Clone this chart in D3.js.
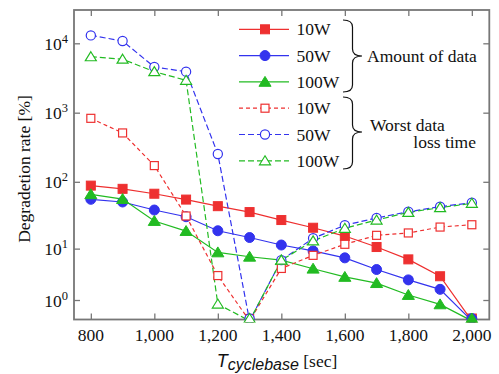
<!DOCTYPE html>
<html lang="en">
<head>
<meta charset="UTF-8">
<script src="https://d3js.org/d3.v7.min.js"></script>
<style>
  body { margin: 0; background: #fff; }
  text { font-family: "Liberation Serif", "Times New Roman", serif; fill: #111; }
</style>
</head>
<body>
<svg width="499" height="374"></svg>
<script>
// data
var cycles = [800, 900, 1000, 1100, 1200, 1300, 1400, 1500, 1600, 1700, 1800, 1900, 2000];
var amount10 = [88, 79, 67, 55, 44, 36, 27.4, 21, 15.7, 10.6, 6.7, 3.4, 0];
var amount50 = [55.5, 50.7, 38.6, 30.7, 18.9, 14.9, 11.4, 9.2, 7.1, 4.5, 2.9, 1.85, 0];
var amount100 = [65.7, 56, 26.5, 18.7, 8.7, 7.4, 6.5, 4.65, 3.3, 2.5, 1.36, 0.73, 0];
var worst10 = [829, 510, 172, 31.5, 3.5, 0, 4.7, 7.8, 11.7, 16.1, 17.5, 21.5, 23.3];
var worst50 = [13000, 10800, 4550, 3900, 253, 0, 6.5, 14.5, 22.9, 29.4, 36.4, 43.2, 49.5];
var worst100 = [6400, 5900, 3900, 2930, 0.75, 0, 6.5, 13.2, 20.6, 27.4, 35.7, 41.8, 48.5];
var xTicks = [800, 1000, 1200, 1400, 1600, 1800, 2000];
var yTicks = [1, 10, 100, 1000, 10000];
var legendLabels = ["10W", "50W", "100W", "10W", "50W", "100W"];

var red = "#ee3030", blue = "#3333ee", green = "#22bb22";

var series = [
  {v: amount10, c: red, m: "square", fill: true, dash: null},
  {v: amount50, c: blue, m: "circle", fill: true, dash: null},
  {v: amount100, c: green, m: "triangle", fill: true, dash: null},
  {v: worst10, c: red, m: "square", fill: false, dash: "4,3"},
  {v: worst50, c: blue, m: "circle", fill: false, dash: "6,3"},
  {v: worst100, c: green, m: "triangle", fill: false, dash: "6,3"}
];

var svg = d3.select("svg");
var pL = 74, pR = 489.3, pT = 10, pB = 319.5;

var x = d3.scaleLinear().domain([747, 2055]).range([pL, pR]);
// the vertical axis is log10(1 + value), so zero sits on the bottom edge
var yT = d3.scaleLinear().domain([0, 4.48]).range([320.9, pT]);
function y(v) { return yT(Math.log10(1 + v)); }

svg.append("clipPath").attr("id", "clip")
  .append("rect").attr("x", pL).attr("y", pT)
  .attr("width", pR - pL).attr("height", pB - pT + 3);

// axes with inward ticks on all four sides
var frameColor = "#777";
function styleAxis(g) {
  g.select(".domain").remove();
  g.selectAll("line").attr("stroke", frameColor).attr("stroke-width", 1.3);
  g.selectAll("text").remove();
}
var yTickVals = yTicks.map(function(d) { return Math.log10(1 + d); });
svg.append("g").attr("transform", "translate(0," + pB + ")")
  .call(d3.axisTop(x).tickValues(xTicks).tickSize(6)).call(styleAxis);
svg.append("g").attr("transform", "translate(0," + pT + ")")
  .call(d3.axisBottom(x).tickValues(xTicks).tickSize(6)).call(styleAxis);
svg.append("g").attr("transform", "translate(" + pL + ",0)")
  .call(d3.axisRight(yT).tickValues(yTickVals).tickSize(6)).call(styleAxis);
svg.append("g").attr("transform", "translate(" + pR + ",0)")
  .call(d3.axisLeft(yT).tickValues(yTickVals).tickSize(6)).call(styleAxis);

svg.append("rect").attr("x", pL).attr("y", pT)
  .attr("width", pR - pL).attr("height", pB - pT)
  .attr("fill", "none").attr("stroke", frameColor).attr("stroke-width", 1.8);

// tick labels
svg.selectAll(".xt").data(xTicks).enter().append("text")
  .attr("x", function(d) { return x(d); }).attr("y", 341)
  .attr("text-anchor", "middle").attr("font-size", "17.5px")
  .text(function(d) { return d3.format(",")(d); });

yTicks.forEach(function(d, i) {
  var t = svg.append("text").attr("x", 68).attr("y", y(d) + 6.5)
    .attr("text-anchor", "end").attr("font-size", "17.5px");
  t.append("tspan").text("10");
  t.append("tspan").attr("font-size", "12.5px").attr("dy", -7).text(i);
});

// axis titles
svg.append("text").attr("transform", "translate(30,169) rotate(-90)")
  .attr("text-anchor", "middle").attr("font-size", "17.5px")
  .text("Degradetion rate [%]");

var xl = svg.append("text").attr("x", 277).attr("y", 367).attr("text-anchor", "middle");
xl.append("tspan").attr("font-family", "Liberation Sans, Arial, sans-serif")
  .attr("font-style", "italic").attr("font-size", "18px").text("T");
xl.append("tspan").attr("font-family", "Liberation Sans, Arial, sans-serif")
  .attr("font-style", "italic").attr("font-size", "16px").attr("dy", 3).text("cyclebase");
xl.append("tspan").attr("font-size", "17.5px").attr("dy", -3).text(" [sec]");

// markers
function marker(g, type, filled, color, cx, cy) {
  var fill = filled ? color : "#fff";
  var sw = filled ? 1 : 1.2;
  if (type === "square") {
    var s = filled ? 9 : 8;
    g.append("rect").attr("x", cx - s / 2).attr("y", cy - s / 2)
      .attr("width", s).attr("height", s)
      .attr("fill", fill).attr("stroke", color).attr("stroke-width", sw);
  } else if (type === "circle") {
    g.append("circle").attr("cx", cx).attr("cy", cy).attr("r", filled ? 5 : 4.6)
      .attr("fill", fill).attr("stroke", color).attr("stroke-width", sw);
  } else {
    var h = filled ? 5.5 : 5;
    g.append("path")
      .attr("d", "M" + cx + "," + (cy - h) + "L" + (cx + h * 1.1) + "," + (cy + h * 0.8)
        + "L" + (cx - h * 1.1) + "," + (cy + h * 0.8) + "Z")
      .attr("fill", fill).attr("stroke", color).attr("stroke-width", sw);
  }
}

var plot = svg.append("g").attr("clip-path", "url(#clip)");
var line = d3.line().x(function(d, i) { return x(cycles[i]); }).y(function(d) { return y(d); });

series.forEach(function(s) {
  plot.append("path").datum(s.v).attr("d", line)
    .attr("fill", "none").attr("stroke", s.c).attr("stroke-width", 1.2)
    .attr("stroke-dasharray", s.dash);
});
series.forEach(function(s) {
  s.v.forEach(function(d, i) {
    marker(plot, s.m, s.fill, s.c, x(cycles[i]), Math.min(y(d), pB - 1));
  });
});

// legend
var lg = svg.append("g");
series.forEach(function(s, i) {
  var ly = 29.3 + i * 26.3;
  lg.append("line").attr("x1", 239).attr("x2", 289).attr("y1", ly).attr("y2", ly)
    .attr("stroke", s.c).attr("stroke-width", 1.2).attr("stroke-dasharray", s.dash);
  marker(lg, s.m, s.fill, s.c, 265, ly);
  lg.append("text").attr("x", 296.5).attr("y", ly + 6).attr("font-size", "17.5px")
    .text(legendLabels[i]);
});

function brace(x0, y0, y1, ym, w) {
  var xm = x0 + w * 0.5, r = 7;
  return "M" + x0 + "," + y0 + " Q" + xm + "," + y0 + " " + xm + "," + (y0 + r)
    + " L" + xm + "," + (ym - r) + " Q" + xm + "," + ym + " " + (x0 + w) + "," + ym
    + " Q" + xm + "," + ym + " " + xm + "," + (ym + r)
    + " L" + xm + "," + (y1 - r) + " Q" + xm + "," + y1 + " " + x0 + "," + y1;
}
lg.append("path").attr("d", brace(343, 20, 92, 56, 19))
  .attr("fill", "none").attr("stroke", "#111").attr("stroke-width", 1.2);
lg.append("path").attr("d", brace(343, 97, 169, 132, 19))
  .attr("fill", "none").attr("stroke", "#111").attr("stroke-width", 1.2);

lg.append("text").attr("x", 367).attr("y", 61.5).attr("font-size", "17.5px").text("Amount of data");
lg.append("text").attr("x", 370).attr("y", 131).attr("font-size", "17.5px").text("Worst data");
lg.append("text").attr("x", 476).attr("y", 148).attr("text-anchor", "end")
  .attr("font-size", "17.5px").text("loss time");
</script>
</body>
</html>
